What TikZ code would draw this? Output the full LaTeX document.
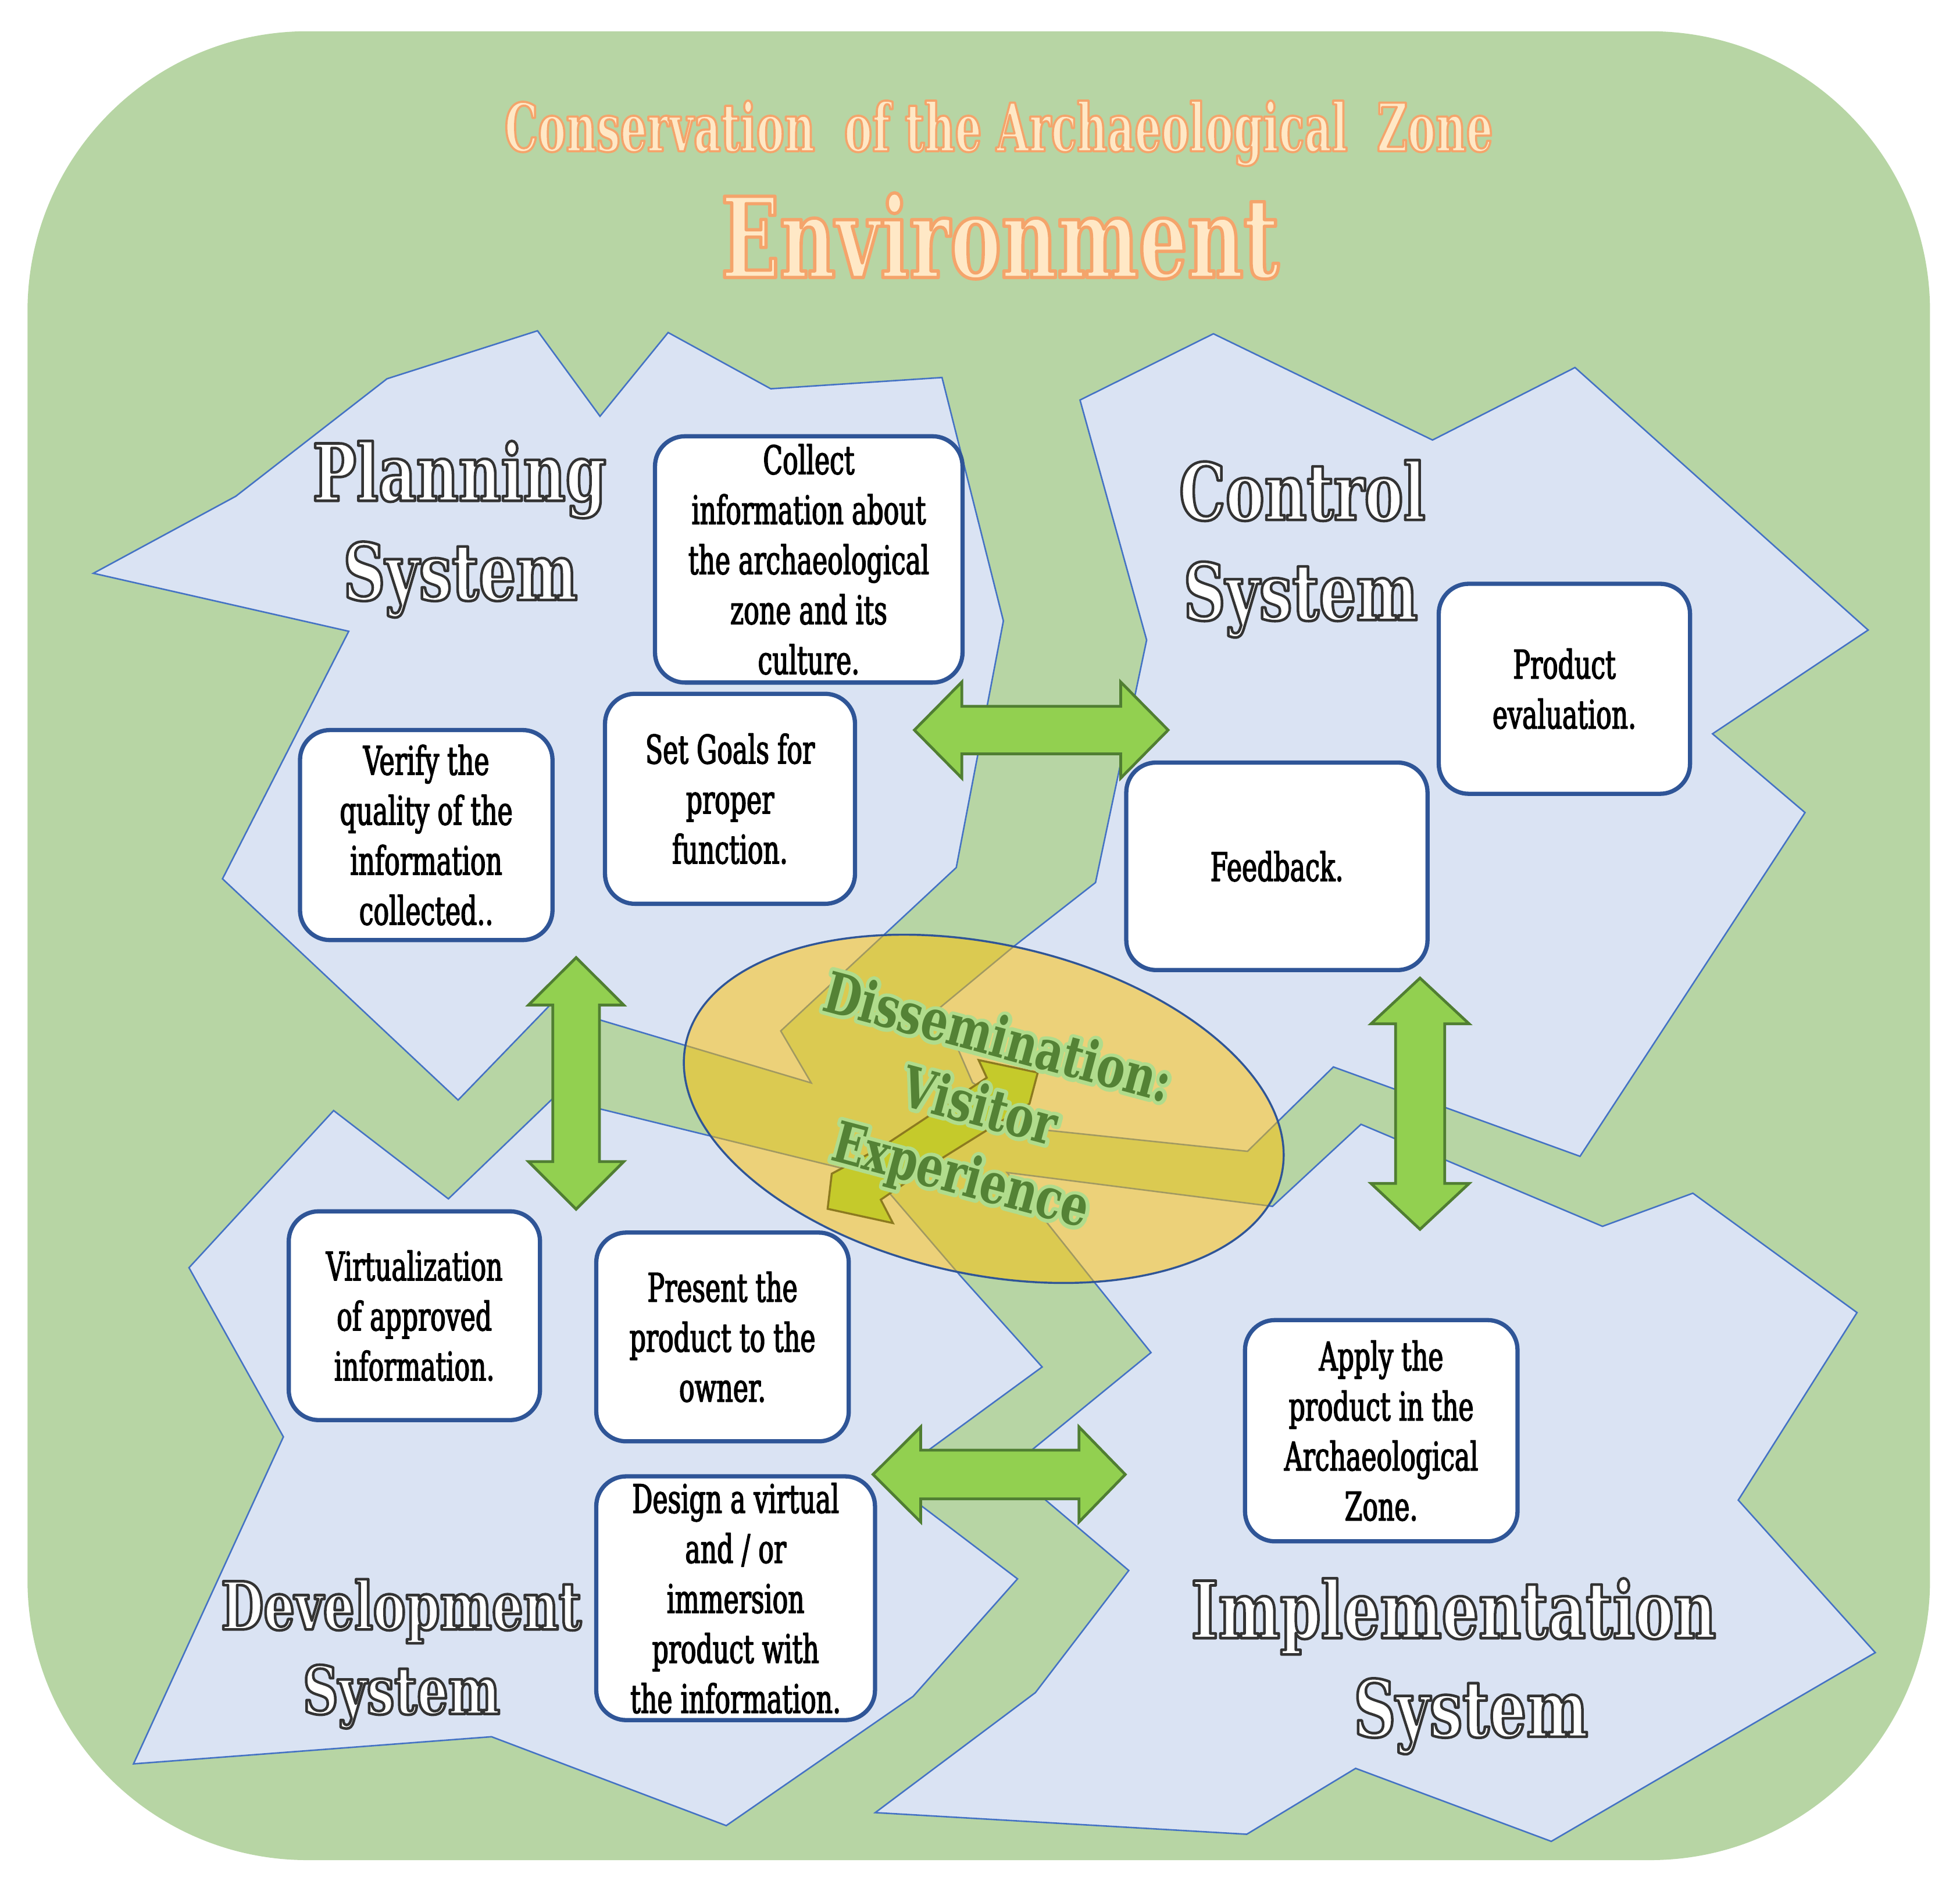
\documentclass[tikz,border=0pt]{standalone}
\usepackage{fontspec}
\newfontfamily\boxfont[FakeStretch=0.65]{DejaVu Serif}
\newfontfamily\sysfont[FakeStretch=0.74]{DejaVu Serif Bold}
\newfontfamily\dissfont[FakeStretch=0.75]{DejaVu Serif Bold}
\newfontfamily\titlefont[FakeStretch=0.63]{DejaVu Serif Bold}
\newfontfamily\envfont[FakeStretch=0.69]{DejaVu Serif Bold}
\definecolor{bggreen}{HTML}{B7D5A4}
\definecolor{regionfill}{HTML}{DAE3F3}
\definecolor{regionline}{HTML}{4472C4}
\definecolor{boxline}{HTML}{2F5597}
\definecolor{arrowfill}{HTML}{92D050}
\definecolor{arrowline}{HTML}{507E32}
\definecolor{ellfill}{HTML}{FFC000}
\definecolor{ellline}{HTML}{2F5597}
\definecolor{yarrowfill}{HTML}{C5CA2B}
\definecolor{yarrowline}{HTML}{8C7A1F}
\definecolor{dissfill}{HTML}{548235}
% outlined glyphs: fill colour #2 and stroke colour #3 pushed on the colour stack,
% then PDF text render mode 2 (fill, then stroke) with line width #1
\newcommand\trstroke[3]{\special{pdf:bcolor [#2] [#3]}\special{pdf:literal direct 2 Tr 1 j #1 w}}
\newcommand\trreset{\special{pdf:literal direct 0 Tr}\special{pdf:ecolor}}
\tikzset{
  region/.style={fill=regionfill, draw=regionline, line width=0.6pt, line join=miter},
  infobox/.style={draw=boxline, line width=1.7pt, fill=white, rounded corners=12pt,
    align=center, inner sep=0pt, font=\boxfont\fontsize{15.8pt}{20pt}\selectfont,
    execute at begin node=\trstroke{0.35}{0 0 0}{0 0 0}, execute at end node=\trreset},
  garrow/.style={fill=arrowfill, draw=arrowline, line width=1.1pt, line join=miter},
  syslabel/.style={anchor=base, inner sep=0pt, font=\sysfont\fontsize{31.5pt}{38pt}\selectfont,
    execute at begin node=\trstroke{1.05}{1 1 1}{0.2 0.2 0.2}, execute at end node=\trreset},
  sysdev/.style={font=\sysfont\fontsize{26.5pt}{32pt}\selectfont},
  titlelabel/.style={anchor=base, inner sep=0pt, font=\titlefont\fontsize{26.7pt}{32pt}\selectfont,
    execute at begin node=\trstroke{0.85}{1 0.91 0.776}{0.957 0.643 0.420}, execute at end node=\trreset},
  envlabel/.style={anchor=base, inner sep=0pt, font=\envfont\fontsize{44.6pt}{50pt}\selectfont,
    execute at begin node=\trstroke{1.3}{1 0.91 0.776}{0.957 0.643 0.420}, execute at end node=\trreset},
  disslabel/.style={anchor=center, inner sep=0pt, align=center, rotate=-15,
    font=\dissfont\fontsize{22.6pt}{28.5pt}\selectfont}
}
\begin{document}
\begin{tikzpicture}[x=0.5pt,y=-0.5pt]
\useasboundingbox (0,0) rectangle (1568,1510);
\fill[white] (0,0) rectangle (1568,1510);
% environment background
\fill[bggreen, rounded corners=112pt] (22,25) rectangle (1544,1488);

% Planning region
\draw[region] (74.7,458.6) -- (188.6,397) -- (309.6,303) -- (430,264.6) -- (480,333) -- (534.5,266)
  -- (616.6,311) -- (753.6,302) -- (802.7,496.7) -- (765,694) -- (624.6,824.7) -- (649,866.3)
  -- (440,804) -- (366.5,880) -- (178,703) -- (279,505) -- cycle;
% Control region
\draw[region] (864,320) -- (970.7,267) -- (1146,352) -- (1260,294) -- (1494.5,504) -- (1370,587)
  -- (1444,650) -- (1264,925) -- (1066.7,853.5) -- (998,921) -- (836,904) -- (778,866)
  -- (752,806) -- (810.5,757.5) -- (876.4,706) -- (917.3,512) -- cycle;
% Development region
\draw[region] (266.9,888.4) -- (358.7,959) -- (443,878) -- (700,941) -- (767.8,1020) -- (833.7,1093.5)
  -- (710,1184) -- (814,1263) -- (730.5,1357) -- (581,1460.4) -- (393.2,1389.3) -- (106.8,1411)
  -- (226.7,1149.4) -- (151.2,1014.1) -- cycle;
% Implementation region
\draw[region] (805.7,938) -- (1018,965) -- (1088.8,899.4) -- (1282,981) -- (1354.3,954.5) -- (1485.6,1050)
  -- (1390.6,1200) -- (1500.2,1322) -- (1241,1473) -- (1084.5,1414.6) -- (997.4,1467.3) -- (700.2,1450)
  -- (828.3,1354) -- (903,1256.3) -- (807,1175) -- (920.8,1082) -- (874.6,1024.6) -- cycle;

% Dissemination ellipse
\draw[fill=ellfill, fill opacity=0.5, draw=ellline, line width=0.8pt, rotate around={-12.5:(787,887)}]
  (787,887) ellipse [x radius=244, y radius=132];
% zigzag arrow inside the ellipse
\draw[fill=yarrowfill, draw=yarrowline, line width=0.8pt, line join=miter]
  (782.9,848) -- (830.2,858) -- (823.6,882.9) -- (748.6,929.6) -- (704.6,959.7) -- (714.3,978.4)
  -- (662.1,967) -- (665.4,938.9) -- (706.2,917.1) -- (789.4,862.1) -- cycle;

% big double arrows
\draw[garrow] (731.5,584) -- (769.5,545.5) -- (769.5,565) -- (896.5,565) -- (896.5,545.5) -- (934.5,584)
  -- (896.5,622.5) -- (896.5,603) -- (769.5,603) -- (769.5,622.5) -- cycle;
\draw[garrow] (698.4,1179.5) -- (736.5,1141.5) -- (736.5,1160) -- (863.2,1160) -- (863.2,1141.5) -- (900.2,1179.5)
  -- (863.2,1217.5) -- (863.2,1199) -- (736.5,1199) -- (736.5,1217.5) -- cycle;
\draw[garrow] (460.9,766) -- (499,804) -- (479.6,804) -- (479.6,929.2) -- (499,929.2) -- (460.9,967.3)
  -- (422.8,929.2) -- (442.2,929.2) -- (442.2,804) -- (422.8,804) -- cycle;
\draw[garrow] (1136,782.4) -- (1175.3,819) -- (1155.7,819) -- (1155.7,946.7) -- (1175.3,946.7) -- (1136,983.4)
  -- (1096.8,946.7) -- (1116.4,946.7) -- (1116.4,819) -- (1096.8,819) -- cycle;

% boxes
\node[infobox, minimum width=123pt, minimum height=98.5pt] (collect) at (647,447.5)
  {Collect\\information about\\the archaeological\\zone and its\\culture.};
\node[infobox, minimum width=100pt, minimum height=84pt] (goals) at (584,639)
  {Set Goals for\\proper\\function.};
\node[infobox, minimum width=101pt, minimum height=84pt] (verify) at (341,668)
  {Verify the\\quality of the\\information\\collected..};
\node[infobox, minimum width=100.5pt, minimum height=84pt] (evaluation) at (1251.5,551)
  {Product\\evaluation.};
\node[infobox, minimum width=120.5pt, minimum height=83pt] (feedback) at (1021.5,693)
  {Feedback.};
\node[infobox, minimum width=100.5pt, minimum height=83.5pt] (virtual) at (331.5,1052.5)
  {Virtualization\\of approved\\information.};
\node[infobox, minimum width=101pt, minimum height=83.5pt] (present) at (578,1069.5)
  {Present the\\product to the\\owner.};
\node[infobox, minimum width=111.5pt, minimum height=97.5pt] (design) at (588.5,1278.5)
  {Design a virtual\\and / or\\immersion\\product with\\the information.};
\node[infobox, minimum width=109pt, minimum height=88.5pt] (apply) at (1105,1144.5)
  {Apply the\\product in the\\Archaeological\\Zone.};

% titles
\node[titlelabel] (title) at (799,121) {Conservation\ \ of the Archaeological\ \ Zone};
\node[envlabel] (env) at (800,222) {Environment};

% system labels
\node[syslabel] (plan1) at (367.5,400.6) {Planning};
\node[syslabel] (plan2) at (368.3,480) {System};
\node[syslabel] (ctrl1) at (1041.8,415.9) {Control};
\node[syslabel] (ctrl2) at (1040.5,496) {System};
\node[syslabel] (impl1) at (1162.9,1310.4) {Implementation};
\node[syslabel] (impl2) at (1176.7,1389.3) {System};
\node[syslabel, sysdev] (dev1) at (321,1303.5) {Development};
\node[syslabel, sysdev] (dev2) at (321.2,1371) {System};

% dissemination label: light green glow under dark green text
\node[disslabel] (dissglow) at (783,888)
  {\trstroke{3.0}{0.690 0.863 0.549}{0.690 0.863 0.549}Dissemination:\\Visitor\\Experience\trreset};
\node[disslabel, text=dissfill] (diss) at (783,888) {Dissemination:\\Visitor\\Experience};
\end{tikzpicture}
\end{document}
